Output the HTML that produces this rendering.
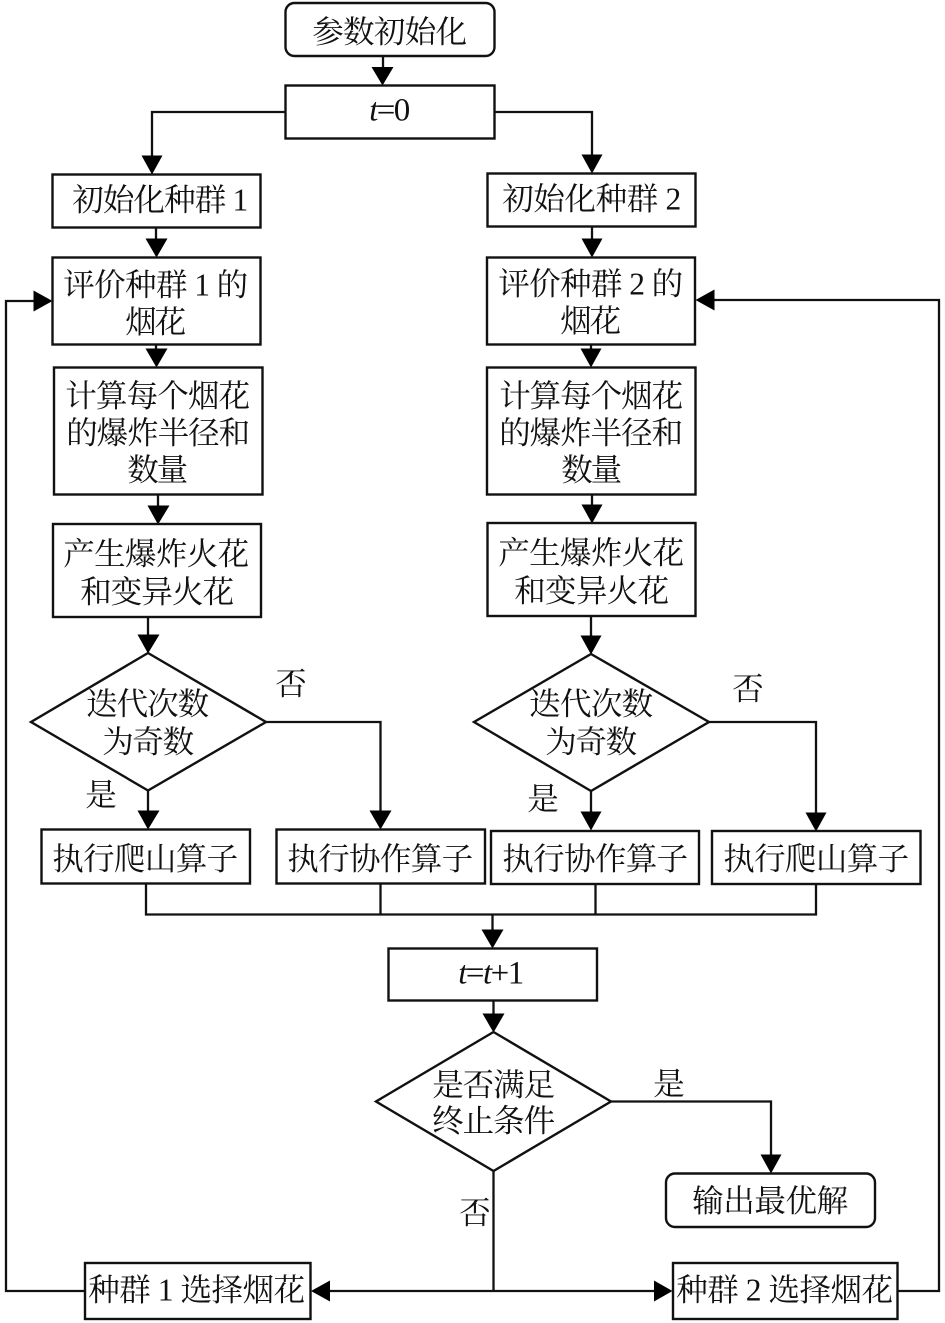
<!DOCTYPE html>
<html><head><meta charset="utf-8">
<style>
html,body{margin:0;padding:0;background:#fff}
svg{display:block}
text{font-family:"Liberation Serif","Noto Serif CJK SC",serif;font-size:31.5px;fill:#111}
.s{fill:#fff;stroke:#111;stroke-width:2.4}
.l{fill:none;stroke:#111;stroke-width:2.3}
.a{fill:#000;stroke:none}
</style></head><body>
<svg width="945" height="1323" viewBox="0 0 945 1323" xmlns="http://www.w3.org/2000/svg">
<g class="l">
<path class="l" d="M383 56V68"/>
<path class="l" d="M285 112H152V156"/>
<path class="l" d="M494 112H592V156"/>
<path class="l" d="M156 227V240"/>
<path class="l" d="M592 226V240"/>
<path class="l" d="M156 344V350"/>
<path class="l" d="M591 344V350"/>
<path class="l" d="M158 494V507"/>
<path class="l" d="M592 494V506"/>
<path class="l" d="M148 617V636"/>
<path class="l" d="M591 616V637"/>
<path class="l" d="M148 790V812"/>
<path class="l" d="M266 722H380.500V813"/>
<path class="l" d="M591 791V813"/>
<path class="l" d="M709 722H816V813"/>
<path class="l" d="M146 883V914.500H816V883"/>
<path class="l" d="M380.500 883V914"/>
<path class="l" d="M595.500 883V914"/>
<path class="l" d="M492.500 914V931"/>
<path class="l" d="M493.500 1000V1015"/>
<path class="l" d="M611 1101.500H771V1156"/>
<path class="l" d="M493.500 1171V1291"/>
<path class="l" d="M328 1291H656"/>
<path class="l" d="M85 1291H6V301H36"/>
<path class="l" d="M897 1291H939V300H712"/>
</g>
<g class="a">
<path d="M371.500 67H393.500L382.500 85.500Z"/>
<path d="M141.500 155.500H162.500L152 174.500Z"/>
<path d="M581.500 154.500H602.500L592 173.500Z"/>
<path d="M145.500 238.500H167.500L156.500 257.500Z"/>
<path d="M581.500 238.500H602.500L592 257.500Z"/>
<path d="M145.500 348.500H167.500L156.500 367.500Z"/>
<path d="M580.500 348.500H601.500L591 367.500Z"/>
<path d="M147.500 505.500H169.500L158 524.500Z"/>
<path d="M581.500 504.500H602.500L592 523.500Z"/>
<path d="M137.500 634.500H159.500L148 653.500Z"/>
<path d="M580.500 635.500H601.500L591 654.500Z"/>
<path d="M137.500 810.500H159.500L148 829.500Z"/>
<path d="M369.500 810.500H391.500L380.500 829.500Z"/>
<path d="M580.500 811.500H601.500L591 830.500Z"/>
<path d="M805.500 812.500H826.500L816 831.500Z"/>
<path d="M481.500 929.500H503.500L492.500 948.500Z"/>
<path d="M482.500 1013.500H504.500L493.500 1032.500Z"/>
<path d="M760.500 1154.500H781.500L771 1173.500Z"/>
<path d="M33.500 290.500V311.500L52.500 301Z"/>
<path d="M714.500 289.500V310.500L695.500 300Z"/>
<path d="M330 1280.500V1301.500L311 1291Z"/>
<path d="M654 1280.500V1301.500L672.500 1291Z"/>
</g>
<rect class="s" x="285.500" y="3" width="209" height="53" rx="9"/>
<rect class="s" x="285.500" y="85.500" width="209" height="53"/>
<rect class="s" x="52.500" y="174.500" width="208" height="53"/>
<rect class="s" x="487.500" y="173.500" width="208" height="53"/>
<rect class="s" x="52.500" y="257.500" width="208" height="87"/>
<rect class="s" x="487" y="257.500" width="208" height="87"/>
<rect class="s" x="54" y="367.500" width="208.500" height="127"/>
<rect class="s" x="487" y="367.500" width="208.500" height="127"/>
<rect class="s" x="53" y="524" width="208" height="93"/>
<rect class="s" x="487.500" y="523" width="208" height="93"/>
<polygon class="s" points="148,653 266,722 148,790.500 31,722"/>
<polygon class="s" points="591,654 709,722 591,791 474,722"/>
<rect class="s" x="41.500" y="829.500" width="208.500" height="54"/>
<rect class="s" x="276.500" y="829.500" width="208.500" height="54"/>
<rect class="s" x="491" y="831" width="208" height="53"/>
<rect class="s" x="712" y="831" width="208.500" height="53"/>
<rect class="s" x="388.500" y="948.500" width="208.500" height="52"/>
<polygon class="s" points="493.500,1032 611,1101.500 493.500,1171 376,1101.500"/>
<rect class="s" x="666" y="1173.500" width="209" height="53.500" rx="9"/>
<rect class="s" x="85" y="1263" width="225.500" height="56"/>
<rect class="s" x="673" y="1263" width="224.500" height="56"/>

<g transform="translate(-0.8,1.5)">
<text x="313" y="41" textLength="155">参数初始化</text>
<text x="370" y="119" textLength="41" style="font-size:33px"><tspan font-style="italic">t</tspan>=0</text>
<text x="73" y="209" textLength="176">初始化种群 1</text>
<text x="503" y="208" textLength="179">初始化种群 2</text>
<text x="64" y="294" textLength="185">评价种群 1 的</text>
<text x="126" y="331" textLength="61">烟花</text>
<text x="499" y="293" textLength="185">评价种群 2 的</text>
<text x="561" y="330" textLength="61">烟花</text>
<text x="66" y="405" textLength="185">计算每个烟花</text>
<text x="67" y="442" textLength="184">的爆炸半径和</text>
<text x="128" y="479" textLength="61">数量</text>
<text x="500" y="405" textLength="184">计算每个烟花</text>
<text x="500" y="442" textLength="184">的爆炸半径和</text>
<text x="562" y="479" textLength="61">数量</text>
<text x="64" y="563" textLength="186">产生爆炸火花</text>
<text x="81" y="601" textLength="154">和变异火花</text>
<text x="499" y="562" textLength="186">产生爆炸火花</text>
<text x="515" y="600" textLength="155">和变异火花</text>
<text x="87" y="713" textLength="123">迭代次数</text>
<text x="103" y="751" textLength="92">为奇数</text>
<text x="530" y="713" textLength="124">迭代次数</text>
<text x="546" y="751" textLength="92">为奇数</text>
<text x="276" y="693">否</text>
<text x="86" y="804">是</text>
<text x="733" y="698">否</text>
<text x="528" y="808">是</text>
<text x="53" y="868" textLength="186">执行爬山算子</text>
<text x="288" y="868" textLength="186">执行协作算子</text>
<text x="503" y="868" textLength="186">执行协作算子</text>
<text x="724" y="868" textLength="186">执行爬山算子</text>
<text x="459" y="982" textLength="66" style="font-size:33px"><tspan font-style="italic">t</tspan>=<tspan font-style="italic">t</tspan>+1</text>
<text x="433" y="1094" textLength="123">是否满足</text>
<text x="433" y="1130" textLength="123">终止条件</text>
<text x="654" y="1093">是</text>
<text x="693" y="1210" textLength="156">输出最优解</text>
<text x="460" y="1222">否</text>
<text x="89" y="1299" textLength="217">种群 1 选择烟花</text>
<text x="677" y="1299" textLength="217">种群 2 选择烟花</text>
</g>
</svg>
</body></html>
